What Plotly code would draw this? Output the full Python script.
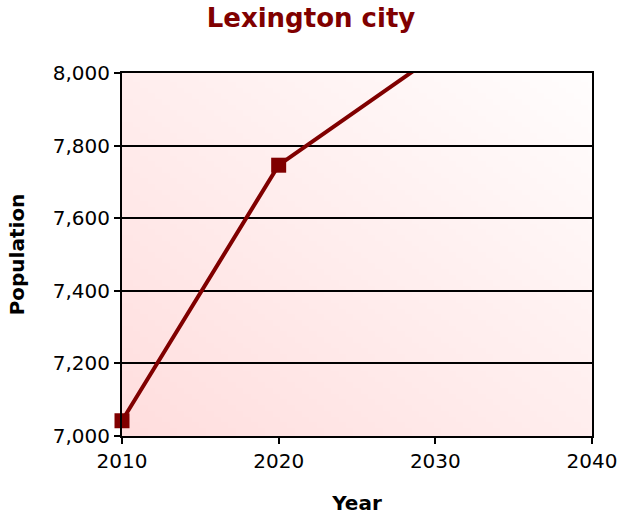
import base64
import struct
import zlib

import plotly.graph_objects as go

years = [2010, 2020, 2030]
population = [7042, 7746, 8048]
y_ticks = [7000, 7200, 7400, 7600, 7800, 8000]
x_ticks = [2010, 2020, 2030, 2040]

line_color = "#800000"
font_family = "Verdana, DejaVu Sans, sans-serif"
y_range = [y_ticks[0], y_ticks[-1]]


def gradient_png(w, h, c0, c1):
    """Diagonal gradient: c0 at bottom-left, c1 at top-right."""
    rows = b""
    for j in range(h):
        rows += b"\x00"
        for i in range(w):
            t = (i / (w - 1) + (1 - j / (h - 1))) / 2
            px = bytes(int(round(c0[k] + (c1[k] - c0[k]) * t)) for k in range(3))
            rows += px
    def chunk(tag, data):
        c = struct.pack(">I", len(data)) + tag + data
        return c + struct.pack(">I", zlib.crc32(tag + data) & 0xFFFFFFFF)
    png = b"\x89PNG\r\n\x1a\n"
    png += chunk(b"IHDR", struct.pack(">IIBBBBB", w, h, 8, 2, 0, 0, 0))
    png += chunk(b"IDAT", zlib.compress(rows))
    png += chunk(b"IEND", b"")
    return "data:image/png;base64," + base64.b64encode(png).decode()


bg = gradient_png(64, 64, (255, 222, 222), (255, 253, 253))

# points inside the visible range (markers are not clipped at the axes)
vis_x = [x for x, y in zip(years, population) if y_range[0] <= y <= y_range[1]]
vis_y = [y for y in population if y_range[0] <= y <= y_range[1]]

fig = go.Figure()
fig.add_trace(go.Scatter(
    x=years, y=population, mode="lines",
    line=dict(color=line_color, width=4),
    cliponaxis=True, showlegend=False, hoverinfo="skip",
))
fig.add_trace(go.Scatter(
    x=vis_x, y=vis_y, mode="markers",
    marker=dict(symbol="square", size=15, color=line_color),
    cliponaxis=False, showlegend=False, hoverinfo="x+y",
))

fig.update_layout(
    width=619, height=517,
    margin=dict(l=122, r=27, t=73, b=81, autoexpand=False),
    paper_bgcolor="white", plot_bgcolor="rgba(0,0,0,0)",
    font=dict(family=font_family, size=20, color="black"),
    title=dict(text="<b>Lexington city</b>", x=311 / 619, xanchor="center",
               xref="container", y=1 - 18 / 517, yanchor="middle", yref="container",
               font=dict(size=26, color=line_color, family=font_family)),
    xaxis=dict(range=[2010, 2040], tickvals=x_ticks, showgrid=False,
               showline=True, linecolor="black", linewidth=2, mirror=True,
               ticks="outside", ticklen=6, tickcolor="black", tickwidth=1.5,
               zeroline=False, automargin=False,
               title=dict(text="<b>Year</b>", standoff=24, font=dict(size=20))),
    yaxis=dict(range=y_range, tickvals=y_ticks, tickformat=",",
               showgrid=True, gridcolor="black", gridwidth=1.5,
               showline=True, linecolor="black", linewidth=2, mirror=True,
               ticks="outside", ticklen=6, tickcolor="black", tickwidth=1.5,
               zeroline=False, automargin=False,
               title=dict(text="<b>Population</b>", standoff=23, font=dict(size=20))),
    images=[dict(source=bg, xref="paper", yref="paper", x=0, y=1,
                 sizex=1, sizey=1, xanchor="left", yanchor="top",
                 sizing="stretch", layer="below")],
)

fig.write_html("out.html", config={"displayModeBar": False},
               post_script="document.body.style.margin='0';document.body.style.overflow='hidden';")
